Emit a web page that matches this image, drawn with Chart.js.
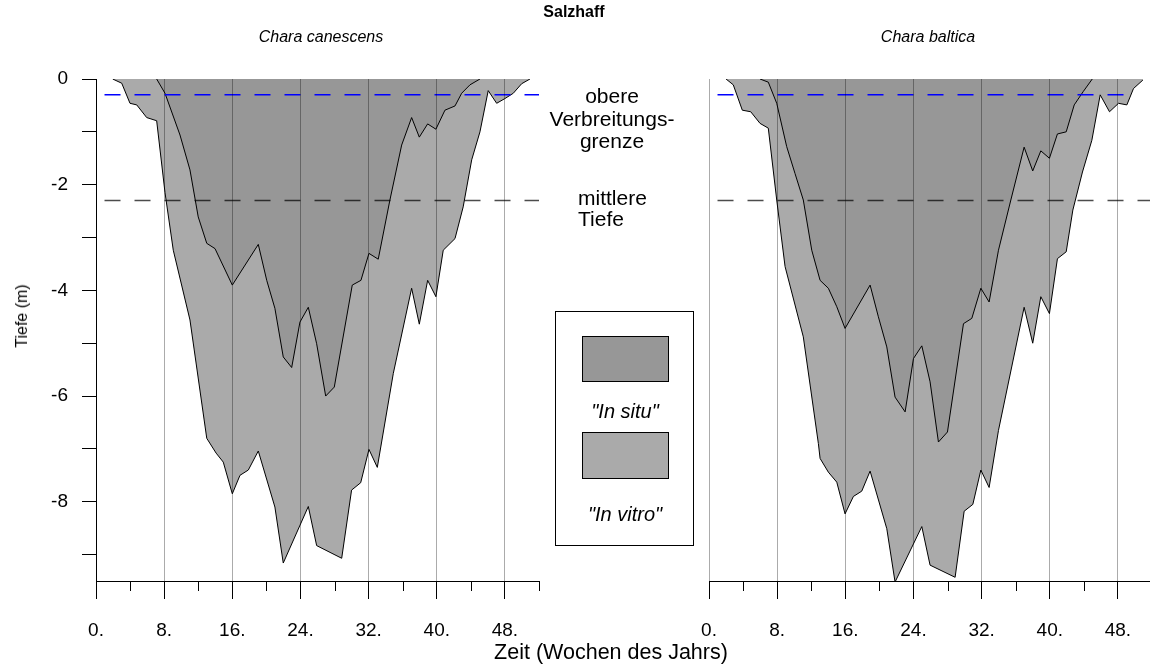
<!DOCTYPE html>
<html>
<head>
<meta charset="utf-8">
<title>Salzhaff</title>
<script src="https://cdn.jsdelivr.net/npm/chart.js@4.4.1/dist/chart.umd.min.js"></script>
<style>
  body { margin: 0; background: #fff; }
  #wrap { position: relative; width: 1150px; height: 666px; overflow: hidden; font-family: "Liberation Sans", Arial, sans-serif; color: #000; }
  canvas { position: absolute; top: 0; }
  .lbl { position: absolute; white-space: nowrap; line-height: 1; transform: translate(-50%, -50%); }
  .left { transform: translate(0, -50%); }
  .sw { position: absolute; border: 1px solid #000; box-sizing: border-box; }
</style>
</head>
<body>
<div id="wrap">
  <canvas id="links" width="560" height="666" style="left:0"></canvas>
  <canvas id="rechts" width="470" height="666" style="left:690px"></canvas>

  <div class="lbl" style="left:574px;top:12px;font-weight:bold;font-size:16px">Salzhaff</div>
  <div class="lbl" style="left:321px;top:37px;font-style:italic;font-size:16px">Chara canescens</div>
  <div class="lbl" style="left:928px;top:37px;font-style:italic;font-size:16px">Chara baltica</div>

  <div class="lbl" style="left:612px;top:95px;font-size:21px">obere</div>
  <div class="lbl" style="left:612px;top:118px;font-size:21px">Verbreitungs-</div>
  <div class="lbl" style="left:612px;top:140px;font-size:21px">grenze</div>
  <div class="lbl left" style="left:578px;top:197px;font-size:21px">mittlere</div>
  <div class="lbl left" style="left:578px;top:218px;font-size:21px">Tiefe</div>

  <div class="lbl" style="left:22px;top:316px;font-size:16px;transform:translate(-50%,-50%) rotate(-90deg)">Tiefe (m)</div>
  <div class="lbl" style="left:611px;top:653px;font-size:21.5px">Zeit (Wochen des Jahrs)</div>

  <!-- legende -->
  <div class="sw" style="left:555px;top:311px;width:139px;height:235px"></div>
  <div class="sw" style="left:582px;top:336px;width:87px;height:46px;background:#979797"></div>
  <div class="lbl" style="left:625px;top:411px;font-size:20px;font-style:italic">"In situ"</div>
  <div class="sw" style="left:582px;top:432px;width:87px;height:47px;background:#aaaaaa"></div>
  <div class="lbl" style="left:625px;top:514px;font-size:20px;font-style:italic">"In vitro"</div>
</div>

<script>
// Chara canescens (links)
var wochenVitroL = [1.96, 3.02, 3.99, 4.78, 5.95, 7.12, 8.1, 9.07, 11.03, 13.0, 14.1, 14.94, 16.0, 16.9, 17.88, 19.05, 21.0, 21.98, 24.92, 25.9, 28.84, 30.0, 31.07, 32.04, 33.02, 34.9, 37.05, 37.95, 38.93, 39.9, 40.76, 42.14, 43.1, 44.1, 45.07, 46.04, 47.03, 48.0, 48.98, 49.96, 50.94];
var tiefeVitroL = [0, -0.08, -0.46, -0.49, -0.73, -0.79, -2.15, -3.24, -4.56, -6.8, -7.08, -7.25, -7.85, -7.5, -7.4, -7.04, -8.1, -9.16, -8.09, -8.83, -9.07, -7.78, -7.64, -7.01, -7.35, -5.57, -3.96, -4.64, -3.81, -4.12, -3.24, -3.02, -2.42, -1.53, -1.0, -0.22, -0.46, -0.37, -0.27, -0.09, 0];
var wochenSituL = [7.12, 8.1, 9.86, 11.03, 12.0, 13.0, 13.97, 16.0, 19.05, 20.04, 21.0, 21.98, 22.97, 23.94, 24.92, 25.9, 26.96, 27.97, 30.08, 31.1, 32.04, 33.13, 34.5, 35.88, 37.05, 37.95, 38.93, 39.9, 40.96, 42.14, 42.92, 43.9, 45.07];
var tiefeSituL = [0, -0.27, -1.06, -1.72, -2.61, -3.11, -3.21, -3.9, -3.13, -3.81, -4.34, -5.26, -5.46, -4.6, -4.32, -5.01, -6.0, -5.83, -3.9, -3.81, -3.3, -3.41, -2.29, -1.25, -0.73, -1.1, -0.85, -0.95, -0.59, -0.51, -0.27, -0.11, 0];

// Chara baltica (rechts)
var wochenVitroR = [2.0, 2.85, 3.91, 4.9, 5.99, 6.96, 7.95, 8.93, 11.07, 12.84, 13.04, 14.01, 15.0, 15.97, 16.95, 17.93, 18.91, 20.87, 21.84, 24.98, 25.95, 28.89, 29.95, 30.97, 31.91, 32.88, 33.98, 36.99, 38.0, 38.95, 39.96, 40.9, 41.93, 42.71, 43.84, 44.94, 45.92, 47.01, 48.07, 49.05, 49.83, 50.93];
var tiefeVitroR = [0, -0.11, -0.59, -0.62, -0.84, -0.93, -2.29, -3.55, -4.88, -6.9, -7.18, -7.44, -7.63, -8.23, -7.9, -7.8, -7.42, -8.51, -9.52, -8.47, -9.2, -9.43, -8.18, -8.05, -7.4, -7.73, -6.65, -4.32, -5.0, -4.12, -4.44, -3.4, -3.27, -2.48, -1.76, -1.16, -0.3, -0.62, -0.46, -0.49, -0.18, -0.02];
var wochenSituR = [5.99, 6.96, 7.95, 9.12, 10.1, 11.07, 12.06, 13.04, 14.01, 15.0, 15.97, 18.91, 19.88, 20.87, 21.84, 23.02, 24.0, 24.98, 25.95, 26.93, 27.99, 29.87, 30.85, 31.91, 32.88, 33.98, 35.43, 36.99, 38.0, 38.95, 39.96, 40.9, 41.93, 42.87, 43.92, 44.99];
var tiefeSituR = [0, -0.06, -0.46, -1.28, -1.79, -2.29, -3.24, -3.81, -3.96, -4.31, -4.72, -3.9, -4.5, -5.07, -6.02, -6.3, -5.29, -5.05, -5.73, -6.87, -6.68, -4.63, -4.53, -3.96, -4.22, -3.24, -2.29, -1.29, -1.74, -1.36, -1.5, -1.04, -1.0, -0.49, -0.24, 0];

var obereGrenze = -0.3;    // obere Verbreitungsgrenze (m)
var mittlereTiefe = -2.3;  // mittlere Tiefe (m)

Chart.defaults.font.family = '"Liberation Sans", Arial, sans-serif';
Chart.defaults.color = '#000';

function toXY(w, d) {
    return w.map(function (x, i) { return {x: x, y: d[i]}; });
}

// kleine Striche alle 4 Wochen (die langen alle 8 macht Chart.js)
var kleineStriche = {
    id: 'kleineStriche',
    afterDraw: function (chart) {
        var xs = chart.scales.x, ctx = chart.ctx;
        ctx.save();
        ctx.strokeStyle = '#000';
        ctx.lineWidth = 1;
        xs.ticks.forEach(function (t) {
            if (t.value % 8 === 0) return;
            var px = Math.round(xs.getPixelForValue(t.value)) + 0.5;
            ctx.beginPath();
            ctx.moveTo(px, xs.top);
            ctx.lineTo(px, xs.top + 10);
            ctx.stroke();
        });
        ctx.restore();
    }
};

function makeChart(id, wV, dV, wS, dS, blauEnde, mitYAchse, padding) {
    var datasets = [{
        label: 'obere Verbreitungsgrenze',
        data: [{x: 1, y: obereGrenze}, {x: blauEnde, y: obereGrenze}],
        borderColor: '#0000ff',
        borderWidth: 1.5,
        borderDash: [16, 14],
        pointRadius: 0,
        fill: false,
        order: 0
    }, {
        label: 'mittlere Tiefe',
        data: [{x: 1, y: mittlereTiefe}, {x: 52, y: mittlereTiefe}],
        borderColor: 'rgba(0,0,0,0.7)',
        borderWidth: 1.5,
        borderDash: [16, 14],
        pointRadius: 0,
        fill: false,
        order: 1
    }, {
        label: 'In situ',
        data: toXY(wS, dS),
        borderColor: '#000',
        borderWidth: 1,
        backgroundColor: '#979797',
        fill: 'origin',
        pointRadius: 0,
        tension: 0,
        order: 2
    }, {
        label: 'In vitro',
        data: toXY(wV, dV),
        borderColor: '#000',
        borderWidth: 1,
        backgroundColor: '#aaaaaa',
        fill: 'origin',
        pointRadius: 0,
        tension: 0,
        order: 3
    }];

    var option = {
        responsive: false,
        animation: false,
        layout: {padding: padding},
        plugins: {legend: {display: false}, tooltip: {enabled: false}, title: {display: false}},
        scales: {
            x: {
                type: 'linear',
                min: 0,
                max: 52,
                ticks: {
                    stepSize: 4,
                    includeBounds: false,
                    autoSkip: false,
                    maxRotation: 0,
                    padding: 20,
                    font: {size: 19},
                    callback: function (v) { return v % 8 === 0 ? v + '.' : ''; }
                },
                grid: {
                    z: 1, // Gitter über den Flächen
                    color: function (c) {
                        if (!c.tick || c.tick.value % 8 !== 0) return 'rgba(0,0,0,0)';
                        if (mitYAchse && c.tick.value === 0) return 'rgba(0,0,0,0)';
                        return 'rgba(0,0,0,0.33)';
                    },
                    tickColor: function (c) { return c.tick && c.tick.value % 8 === 0 ? '#000' : 'rgba(0,0,0,0)'; },
                    tickLength: 18
                },
                border: {color: '#000', z: 1},
                afterFit: function (s) {
                    s.height = 85;
                    s.paddingLeft = 0;
                    s.paddingRight = 0;
                }
            },
            y: {
                min: -9.5,
                max: 0,
                display: mitYAchse,
                ticks: {
                    stepSize: 1,
                    includeBounds: false,
                    padding: 14,
                    font: {size: 19},
                    callback: function (v) { return v % 2 === 0 ? String(v) : ''; }
                },
                grid: {drawOnChartArea: false, tickLength: 14, tickColor: '#000'},
                border: {color: '#000'},
                afterFit: function (s) { if (mitYAchse) s.width = 96; }
            }
        }
    };

    return new Chart(document.getElementById(id), {
        type: 'line',
        data: {datasets: datasets},
        options: option,
        plugins: [kleineStriche]
    });
}

var graphLinks = makeChart('links', wochenVitroL, tiefeVitroL, wochenSituL, tiefeSituL, 52, true,
    {left: 0, top: 79, right: 21, bottom: 0});
var graphRechts = makeChart('rechts', wochenVitroR, tiefeVitroR, wochenSituR, tiefeSituR, 49.7, false,
    {left: 19, top: 79, right: 8, bottom: 0});
</script>
</body>
</html>
